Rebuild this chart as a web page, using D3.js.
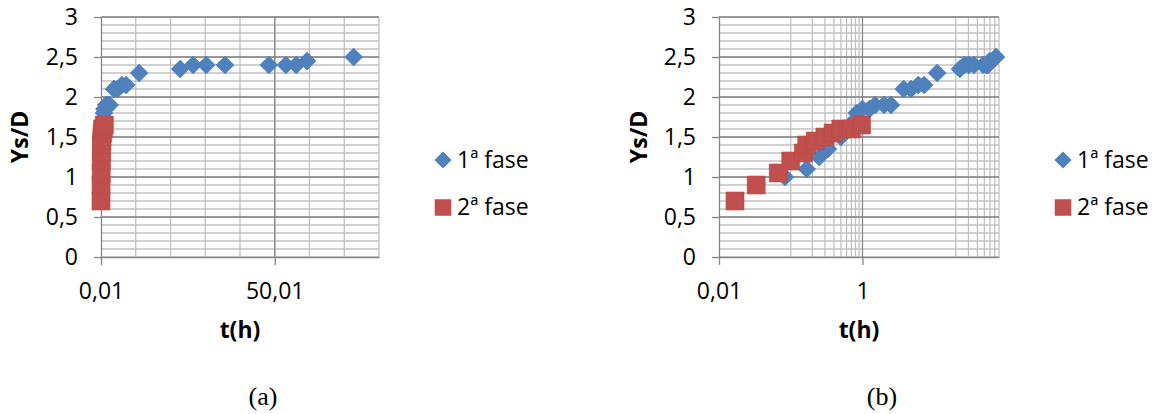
<!DOCTYPE html>
<html>
<head>
<meta charset="utf-8">
<script src="https://cdn.jsdelivr.net/npm/d3@7"></script>
<style>
  body { margin: 0; background: #fff; }
  svg text { font-family: "Open Sans", sans-serif; }
  svg text.painel { font-family: "Liberation Serif", "Times New Roman", serif; }
</style>
</head>
<body>
<svg id="fig" width="1161" height="414"></svg>
<script>
// 1ª fase
const t1 = [0.083, 0.167, 0.25, 0.33, 0.5, 0.67, 0.83, 1.0, 1.25, 1.5, 2.0, 2.5,
            3.75, 4.75, 6.0, 7.25, 11, 22.8, 26.5, 30.3, 35.7, 48.3, 53.2, 56.2, 59.3, 72.7];
const ys1 = [1.0, 1.1, 1.25, 1.35, 1.5, 1.65, 1.8, 1.85, 1.85, 1.9, 1.9, 1.9,
             2.1, 2.1, 2.15, 2.15, 2.3, 2.35, 2.4, 2.4, 2.4, 2.4, 2.4, 2.4, 2.45, 2.5];
// 2ª fase
const t2 = [0.0167, 0.033, 0.067, 0.1, 0.15, 0.167, 0.22, 0.3, 0.39, 0.5, 0.7, 0.97];
const ys2 = [0.7, 0.9, 1.05, 1.2, 1.3, 1.4, 1.45, 1.5, 1.55, 1.6, 1.6, 1.65];

const seriesNames = ["1ª fase", "2ª fase"];
const yTicks = [0, 0.5, 1, 1.5, 2, 2.5, 3];
const linTicks = [0.01, 50.01];
const linTickLabels = ["0,01", "50,01"];
const logTicks = [0.01, 1];
const logTickLabels = ["0,01", "1"];
const panelLabels = ["(a)", "(b)"];

const blue = "#4f81bd", red = "#c0504d";
const majorGrid = "#868686", minorGrid = "#c0c0c0";
const svg = d3.select("#fig");

const diamond = "M0,-9L9,0L0,9L-9,0Z";
const square = "M-9,-9h18v18h-18Z";

function drawPanel(o) {
    const g = svg.append("g");
    const y = d3.scaleLinear().domain([0, 3]).range([257, 17]);
    const x = o.x;
    const [x0, x1] = x.range();

    // grade (menor a cada 0,1, maior a cada 0,5)
    g.append("g").selectAll("line")
        .data(d3.range(0, 3.001, 0.1))
        .enter().append("line")
        .attr("x1", x0).attr("x2", x1)
        .attr("y1", d => y(d)).attr("y2", d => y(d))
        .attr("stroke", minorGrid).attr("stroke-width", 1.3);
    g.append("g").selectAll("line")
        .data(o.vMinor)
        .enter().append("line")
        .attr("x1", d => x(d)).attr("x2", d => x(d))
        .attr("y1", y(0)).attr("y2", y(3))
        .attr("stroke", minorGrid).attr("stroke-width", 1.3);
    g.append("g").selectAll("line")
        .data(yTicks.slice(1))
        .enter().append("line")
        .attr("x1", x0).attr("x2", x1)
        .attr("y1", d => y(d)).attr("y2", d => y(d))
        .attr("stroke", majorGrid).attr("stroke-width", 1.3);
    g.append("g").selectAll("line")
        .data(o.ticks.slice(1))
        .enter().append("line")
        .attr("x1", d => x(d)).attr("x2", d => x(d))
        .attr("y1", y(0)).attr("y2", y(3))
        .attr("stroke", majorGrid).attr("stroke-width", 1.3);

    const yAxis = g.append("g")
        .attr("transform", `translate(${x0},0)`)
        .call(d3.axisLeft(y).tickValues(yTicks)
            .tickFormat(d => String(d).replace(".", ","))
            .tickSize(7).tickSizeOuter(0).tickPadding(16));
    const xAxis = g.append("g")
        .attr("transform", `translate(0,${y(0)})`)
        .call(d3.axisBottom(x).tickValues(o.ticks)
            .tickFormat((d, i) => o.tickLabels[i])
            .tickSize(8).tickSizeOuter(0).tickPadding(18));
    [yAxis, xAxis].forEach(a => {
        a.selectAll("path, line").attr("stroke", majorGrid).attr("stroke-width", 1.3);
        a.selectAll("text").attr("font-size", 23).attr("fill", "#000");
    });

    // títulos dos eixos
    g.append("text")
        .attr("transform", `translate(${o.yTitleX},${(y(0) + y(3)) / 2}) rotate(-90)`)
        .attr("text-anchor", "middle").attr("font-size", 23).attr("font-weight", "bold")
        .text("Ys/D");
    g.append("text")
        .attr("x", (x0 + x1) / 2).attr("y", 338)
        .attr("text-anchor", "middle").attr("font-size", 23).attr("font-weight", "bold")
        .text("t(h)");

    // pontos
    g.append("g").selectAll("path")
        .data(t1.map((t, i) => [t, ys1[i]]))
        .enter().append("path")
        .attr("d", diamond)
        .attr("transform", d => `translate(${x(d[0])},${y(d[1])})`)
        .attr("fill", blue).attr("stroke", "#4a7ebb").attr("stroke-width", 0.6);
    g.append("g").selectAll("path")
        .data(t2.map((t, i) => [t, ys2[i]]))
        .enter().append("path")
        .attr("d", square)
        .attr("transform", d => `translate(${x(d[0])},${y(d[1])})`)
        .attr("fill", red).attr("stroke", "#b94a47").attr("stroke-width", 0.6);

    // legenda
    const leg = g.append("g").attr("transform", `translate(${o.legX},0)`);
    [[diamond, blue, 160], [square, red, 207.5]].forEach((m, i) => {
        leg.append("path").attr("d", m[0])
            .attr("transform", `translate(0,${m[2]}) scale(${i === 0 ? 0.95 : 0.92})`)
            .attr("fill", m[1]);
        leg.append("text").attr("x", 14).attr("y", m[2] + 7.5)
            .attr("font-size", 23).text(seriesNames[i]);
    });

    // rótulo do painel
    svg.append("text")
        .attr("class", "painel")
        .attr("x", (x0 + x1) / 2 + 23).attr("y", 405)
        .attr("text-anchor", "middle")
        .attr("font-size", 26)
        .text(o.label);
}

drawPanel({
    x: d3.scaleLinear().domain([0.01, 80.01]).range([101, 379]),
    ticks: linTicks,
    tickLabels: linTickLabels,
    vMinor: d3.range(10.01, 80.02, 10),
    yTitleX: 28,
    legX: 443,
    label: panelLabels[0]
});

drawPanel({
    x: d3.scaleLog().domain([0.01, 80.01]).range([719, 999]),
    ticks: logTicks,
    tickLabels: logTickLabels,
    vMinor: d3.range(1, 10).map(k => k * 0.1).concat(d3.range(2, 10).map(k => k * 10)).filter(v => v <= 80.01),
    yTitleX: 647,
    legX: 1063,
    label: panelLabels[1]
});
</script>
</body>
</html>
